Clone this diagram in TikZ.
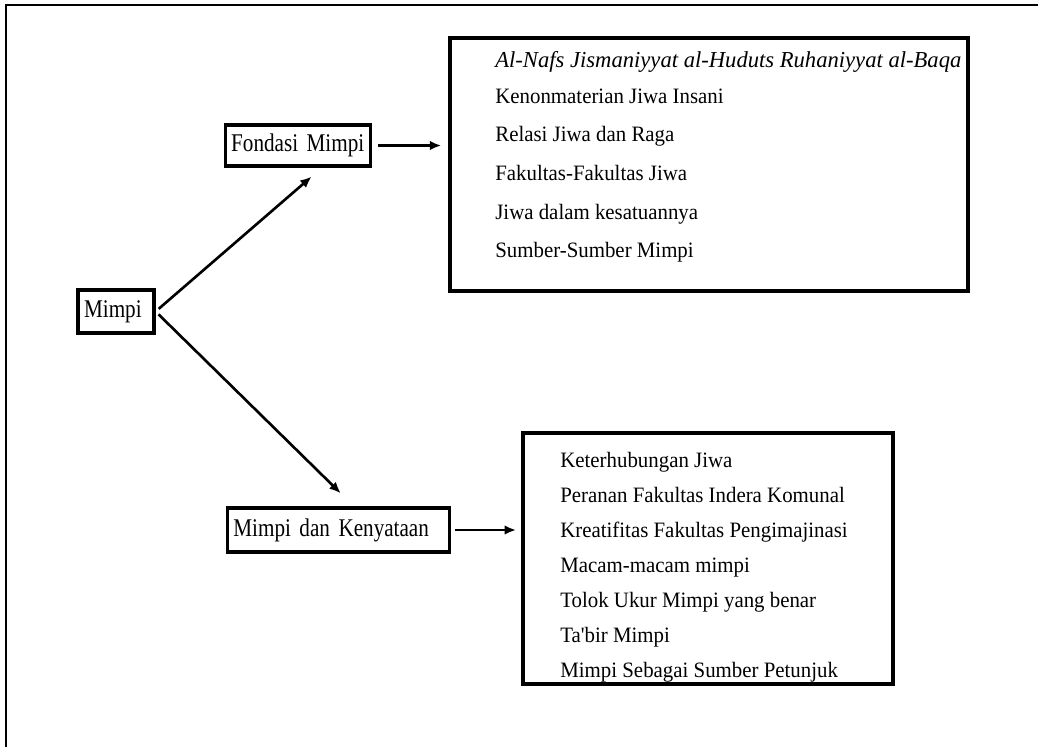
\documentclass[tikz,border=0pt]{standalone}
\usepackage{fontspec}
\setmainfont{Liberation Serif}
\newfontfamily\labelfont[FakeStretch=0.83]{Liberation Serif}
\newfontfamily\listfont[FakeStretch=0.95]{Liberation Serif}
\newfontfamily\listitfont[FakeStretch=0.99]{Liberation Serif}
\newcommand\labelsize{\labelfont\fontsize{14.5}{17}\selectfont\spaceskip=2.6pt plus 1pt minus 0.5pt\relax}
\usetikzlibrary{arrows.meta}

\tikzset{
  labelbox/.style={draw, line width=2pt, inner xsep=3.4pt, inner ysep=0pt,
    align=left, font=\labelsize},
  listbox/.style={draw, line width=2pt, inner sep=0pt},
  itemtext/.style={anchor=base west, inner sep=0pt, font=\listfont\fontsize{12.5}{15}\selectfont},
  arr/.style={-{Latex[length=6.5pt,width=5.5pt]}, line width=1.5pt},
  frame/.style={line width=1.1pt}
}

\begin{document}
\begin{tikzpicture}[x=0.02cm, y=-0.02cm]
    \useasboundingbox (0,0) rectangle (1038,747);
    \draw[frame] (6,747) -- (6,5) -- (1038,5);

    % left part
    \node[labelbox, text width=36.3pt, minimum height=0.86cm] (mimpi) at (116,311.5) {Mimpi};
    \node[labelbox, text width=76pt, minimum height=0.82cm] (fondasi) at (298,145.5) {Fondasi Mimpi};
    \node[labelbox, text width=119.6pt, minimum height=0.88cm] (kenyataan) at (338.5,530) {Mimpi dan Kenyataan};

    % the two lists
    \node[listbox, minimum width=10.36cm, minimum height=5.06cm] (listA) at (709,164.5) {};
    \node[listbox, minimum width=7.4cm, minimum height=5.02cm] (listB) at (708,558.5) {};

    \foreach \yy/\txt [count=\i] in {67/{\listitfont\fontsize{13}{15}\selectfont\itshape Al-Nafs Jismaniyyat al-Huduts Ruhaniyyat al-Baqa},
        103/Kenonmaterian Jiwa Insani, 141/Relasi Jiwa dan Raga, 180/Fakultas-Fakultas Jiwa,
        219/Jiwa dalam kesatuannya, 257/Sumber-Sumber Mimpi}
      \node[itemtext] (a\i) at (495,\yy) {\txt};

    \foreach \yy/\txt [count=\i] in {467/Keterhubungan Jiwa, 502/Peranan Fakultas Indera Komunal,
        537/Kreatifitas Fakultas Pengimajinasi, 572/Macam-macam mimpi,
        607/Tolok Ukur Mimpi yang benar, 642/Ta'bir Mimpi, 677/Mimpi Sebagai Sumber Petunjuk}
      \node[itemtext] (b\i) at (560,\yy) {\txt};

    % arrows
    \draw[arr, shorten <=2.3pt, shorten >=7.7pt] (mimpi.east) -- (fondasi.-43);
    \draw[arr, shorten <=2.3pt, shorten >=10.5pt] (mimpi.east) -- (kenyataan.57);
    \draw[arr, shorten <=3pt, shorten >=4pt] (fondasi.east) -- (fondasi.east -| listA.west);
    \draw[arr, shorten <=2pt, shorten >=3pt] (kenyataan.east) -- (kenyataan.east -| listB.west);
  \end{tikzpicture}
\end{document}
